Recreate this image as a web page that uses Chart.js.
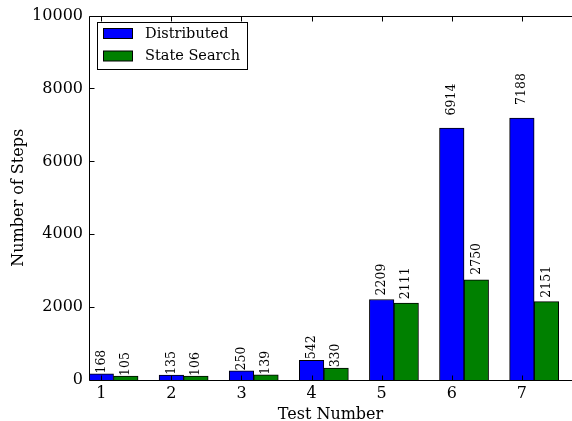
<!DOCTYPE html>
<html><head><meta charset="utf-8">
<script src="https://cdn.jsdelivr.net/npm/chart.js@4/dist/chart.umd.min.js"></script>
<style>html,body{margin:0;padding:0;background:#fff;overflow:hidden}#wrap{width:572px;height:421px;position:relative}</style>
</head><body><div id="wrap"><canvas id="c" width="572" height="421"></canvas></div>
<script>
const categories = ['1','2','3','4','5','6','7'];
const seriesNames = ['Distributed','State Search'];
const distributed = [168,135,250,542,2209,6914,7188];
const stateSearch = [105,106,139,330,2111,2750,2151];
const yTicks = [0,2000,4000,6000,8000,10000];

const BAR_W = 0.35;
const X_MAX = 6.89;
const LEFT = 89, TOP = 14, XAXIS_H = 41, W = 572;
const FONT = '"DejaVu Serif", "Liberation Serif", serif';
const COLORS = ['#0000ff', '#008000'];
const barPx = (W - LEFT) / X_MAX * BAR_W;

const series = [distributed, stateSearch];
const datasets = series.map((vals, s) => ({
  label: seriesNames[s],
  data: vals.map((v, i) => ({x: i + BAR_W * s + BAR_W / 2, y: v})),
  backgroundColor: COLORS[s],
  borderColor: '#000',
  borderWidth: 1,
  borderSkipped: 'bottom',
  grouped: false,
  barThickness: barPx
}));

const deco = {
  id: 'deco',
  afterDatasetsDraw(chart) {
    const ctx = chart.ctx, xs = chart.scales.x, ys = chart.scales.y;
    ctx.save();
    ctx.fillStyle = '#000';
    ctx.font = '12.5px ' + FONT;
    ctx.textAlign = 'left';
    ctx.textBaseline = 'middle';
    chart.data.datasets.forEach(ds => {
      ds.data.forEach(p => {
        const x = xs.getPixelForValue(p.x);
        const y = ys.getPixelForValue(p.y * 1.05);
        ctx.save();
        ctx.translate(x, y);
        ctx.rotate(-Math.PI / 2);
        ctx.fillText(String(p.y), 0, 0);
        ctx.restore();
      });
    });
    ctx.restore();
  },
  afterDraw(chart) {
    const ctx = chart.ctx, a = chart.chartArea, xs = chart.scales.x, ys = chart.scales.y;
    ctx.save();
    ctx.strokeStyle = '#000';
    ctx.lineWidth = 1;
    const L = Math.round(a.left) + 0.5, T = Math.round(a.top) + 0.5, B = Math.round(a.bottom) + 0.5;
    ctx.beginPath();
    ctx.moveTo(L, B); ctx.lineTo(L, T); ctx.lineTo(W + 2, T);
    ctx.moveTo(L, B); ctx.lineTo(W + 2, B);
    yTicks.forEach(v => {
      const y = Math.round(ys.getPixelForValue(v)) + 0.5;
      ctx.moveTo(L, y); ctx.lineTo(L + 5, y);
    });
    categories.forEach((c, i) => {
      const x = Math.round(xs.getPixelForValue(i + BAR_W / 2)) + 0.5;
      ctx.moveTo(x, B); ctx.lineTo(x, B - 5);
      ctx.moveTo(x, T); ctx.lineTo(x, T + 5);
    });
    ctx.stroke();
    const lx = 97.5, ly = 22.5, lw = 150, lh = 47;
    ctx.fillStyle = '#fff';
    ctx.fillRect(lx, ly, lw, lh);
    ctx.strokeRect(lx, ly, lw, lh);
    ctx.font = '14.5px ' + FONT;
    ctx.textAlign = 'left';
    ctx.textBaseline = 'middle';
    chart.data.datasets.forEach((ds, k) => {
      const py = 28.5 + k * 22.5;
      ctx.fillStyle = ds.backgroundColor;
      ctx.fillRect(103.5, py, 29, 10);
      ctx.strokeRect(103.5, py, 29, 10);
      ctx.fillStyle = '#000';
      ctx.fillText(ds.label, 145, py + 5.5);
    });
    ctx.restore();
  }
};

new Chart(document.getElementById('c'), {
  type: 'bar',
  data: {datasets},
  options: {
    responsive: false,
    animation: false,
    devicePixelRatio: 1,
    layout: {padding: {top: TOP, left: 0, right: 0, bottom: 0}},
    plugins: {legend: {display: false}, tooltip: {enabled: false}},
    scales: {
      x: {
        type: 'linear', min: 0, max: X_MAX, position: 'bottom', offset: false,
        grid: {display: false, drawTicks: false, offset: false},
        border: {display: false},
        afterBuildTicks: s => { s.ticks = categories.map((c, i) => ({value: i + BAR_W / 2})); },
        afterFit: s => { s.height = XAXIS_H; },
        ticks: {
          autoSkip: false, maxRotation: 0, padding: 4,
          color: '#000', font: {family: FONT, size: 16},
          callback: (v, i) => categories[i]
        },
        title: {display: true, text: 'Test Number', color: '#000',
          font: {family: FONT, size: 16, lineHeight: 0.75}, padding: {top: 0, bottom: 0}}
      },
      y: {
        min: 0, max: 10000,
        grid: {display: false, drawTicks: false},
        border: {display: false},
        afterBuildTicks: s => { s.ticks = yTicks.map(v => ({value: v})); },
        afterFit: s => { s.width = LEFT; },
        ticks: {padding: 6, color: '#000', font: {family: FONT, size: 16},
          callback: v => String(v)},
        title: {display: true, text: 'Number of Steps', color: '#000',
          font: {family: FONT, size: 16, lineHeight: 1}, padding: {top: 11, bottom: 0}}
      }
    }
  },
  plugins: [deco]
});
</script></body></html>
